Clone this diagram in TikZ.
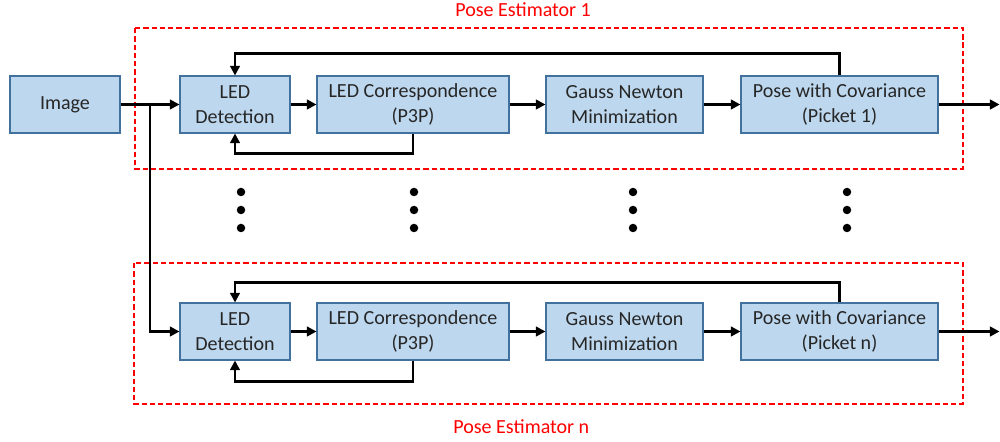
\documentclass[tikz,border=0pt]{standalone}
\usepackage{fontspec}
\setmainfont{Carlito}
\usepackage{tikz}
\usetikzlibrary{arrows.meta, calc}
\definecolor{boxfill}{HTML}{BDD7EE}
\definecolor{boxline}{HTML}{41719C}
\definecolor{boxtext}{HTML}{262626}

\begin{document}
\begin{tikzpicture}[
    blk/.style={draw=boxline, fill=boxfill, line width=0.6pt, minimum height=1.14cm,
                inner sep=0, align=center, text=boxtext,
                font=\fontsize{11.4pt}{14.2pt}\selectfont},
    arr/.style={-{Triangle[length=5.5pt,width=5.5pt]}, line width=1.6pt},
    est/.style={draw=red, dash pattern=on 3pt off 1.7pt, line width=1.1pt},
    title/.style={text=red, inner sep=0, anchor=base west, font=\fontsize{11.4pt}{14.2pt}\selectfont}]
      \useasboundingbox (0,0) rectangle (20,-8.84);

      % the two estimator frames
      \draw[est] (2.7,-0.56) rectangle (19.26,-3.38);
      \draw[est] (2.68,-5.26) rectangle (19.26,-8.08);
      \node [title] (T1) at (9.1,-0.34) {Pose Estimator 1};
      \node [title] (Tn) at (9.06,-8.66) {Pose Estimator n};

      % input
      \node [blk, minimum width=2.2cm] (Img) at (1.3,-2.09) {Image};

      % first row
      \node [blk, minimum width=2.2cm] (Det1) at (4.7,-2.09) {LED\\Detection};
      \node [blk, minimum width=3.84cm] (Cor1) at (8.26,-2.09) {LED Correspondence\\(P3P)};
      \node [blk, minimum width=3.14cm] (GN1) at (12.49,-2.09) {Gauss Newton\\Minimization};
      \node [blk, minimum width=3.94cm] (Pose1) at (16.79,-2.09) {Pose with Covariance\\(Picket 1)};

      % last row
      \node [blk, minimum width=2.2cm] (DetN) at (4.7,-6.63) {LED\\Detection};
      \node [blk, minimum width=3.84cm] (CorN) at (8.26,-6.63) {LED Correspondence\\(P3P)};
      \node [blk, minimum width=3.14cm] (GNN) at (12.49,-6.63) {Gauss Newton\\Minimization};
      \node [blk, minimum width=3.94cm] (PoseN) at (16.79,-6.63) {Pose with Covariance\\(Picket n)};

      \coordinate (S) at ($(Img.east)!0.5!(Det1.west)$);
      \coordinate (Out1) at ($(Pose1.east)+(1.22,0)$);
      \coordinate (OutN) at ($(PoseN.east)+(1.22,0)$);

      \draw[arr] (Img.east) -- (Det1.west);
      \draw[arr] (S) |- (DetN.west);

      \draw[arr] (Det1) -- (Cor1);
      \draw[arr] (Cor1) -- (GN1);
      \draw[arr] (GN1) -- (Pose1);
      \draw[arr] (Pose1.east) -- (Out1);
      \draw[arr] (Pose1.north) -- ++(0,0.44) -| (Det1.north);
      \draw[arr] (Cor1.south) -- ++(0,-0.4) -| (Det1.south);

      \draw[arr] (DetN) -- (CorN);
      \draw[arr] (CorN) -- (GNN);
      \draw[arr] (GNN) -- (PoseN);
      \draw[arr] (PoseN.east) -- (OutN);
      \draw[arr] (PoseN.north) -- ++(0,0.4) -| (DetN.north);
      \draw[arr] (CorN.south) -- ++(0,-0.42) -| (DetN.south);

      % vertical dots
      \foreach \x in {4.82, 8.28, 12.66, 16.94}
        \foreach \y in {-3.84, -4.2, -4.56}
          \fill [black] (\x,\y) circle (0.085);
    \end{tikzpicture}
\end{document}
